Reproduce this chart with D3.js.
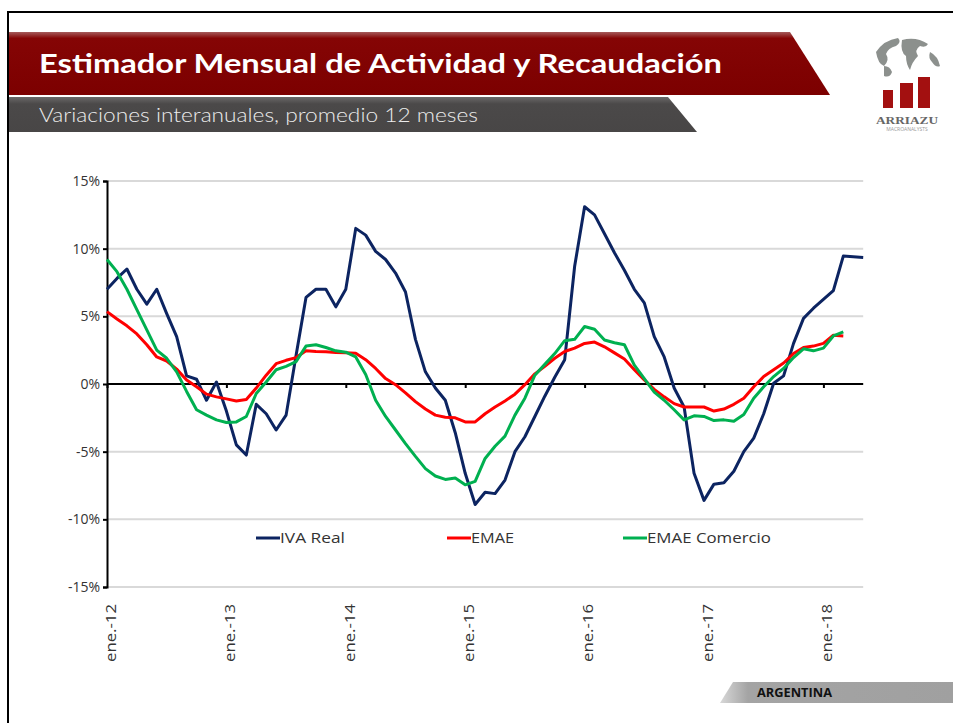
<!DOCTYPE html>
<html>
<head>
<meta charset="utf-8">
<script src="https://cdn.jsdelivr.net/npm/d3@7"></script>
<style>
  body { margin: 0; background: #fff; }
  svg { display: block; }
  text { font-family: "Open Sans", "Lato", sans-serif; }
</style>
</head>
<body>
<div id="chart"></div>
<script>
// ---- data (monthly, ene-2012 = 0) ----
var ivaReal = [7.0, 7.8, 8.5, 7.0, 5.9, 7.0, 5.2, 3.5, 0.6, 0.35, -1.2, 0.15,
  -2.0, -4.5, -5.25, -1.5, -2.2, -3.4, -2.3, 2.1, 6.4, 7.0, 7.0, 5.7,
  7.0, 11.5, 11.0, 9.8, 9.2, 8.2, 6.8, 3.3, 0.9, -0.3, -1.2, -3.6,
  -6.6, -8.9, -8.0, -8.1, -7.1, -5.0, -3.9, -2.4, -0.9, 0.5, 1.8, 8.7,
  13.1, 12.5, 11.1, 9.7, 8.4, 7.0, 6.0, 3.5, 2.0, -0.3, -1.7, -6.6,
  -8.6, -7.4, -7.3, -6.45, -5.0, -4.0, -2.2, 0.05, 0.6, 3.0, 4.85, 5.6,
  6.25, 6.9, 9.45, 9.4, 9.35];

var emae = [5.35, 4.8, 4.3, 3.7, 2.9, 2.0, 1.7, 1.1, 0.3, -0.2, -0.75, -0.95,
  -1.1, -1.25, -1.15, -0.3, 0.65, 1.5, 1.75, 1.95, 2.45, 2.4, 2.38, 2.33,
  2.3, 2.27, 1.8, 1.15, 0.4, -0.05, -0.65, -1.3, -1.85, -2.3, -2.45, -2.5,
  -2.8, -2.8, -2.2, -1.7, -1.25, -0.75, -0.05, 0.75, 1.3, 1.9, 2.4, 2.65,
  3.0, 3.1, 2.75, 2.3, 1.85, 1.05, 0.3, -0.4, -0.95, -1.45, -1.7, -1.7,
  -1.7, -2.0, -1.85, -1.5, -1.05, -0.2, 0.55, 1.05, 1.55, 2.25, 2.7, 2.8,
  3.0, 3.6, 3.55];

var emaeComercio = [9.2, 8.3, 7.0, 5.5, 4.0, 2.5, 1.9, 0.9, -0.55, -1.9, -2.3, -2.65,
  -2.85, -2.8, -2.4, -0.7, 0.15, 1.05, 1.3, 1.65, 2.8, 2.9, 2.7, 2.45,
  2.35, 2.0, 0.7, -1.2, -2.4, -3.4, -4.4, -5.35, -6.25, -6.8, -7.05, -6.95,
  -7.45, -7.2, -5.5, -4.6, -3.85, -2.3, -1.05, 0.65, 1.45, 2.25, 3.2, 3.3,
  4.25, 4.05, 3.25, 3.05, 2.9, 1.4, 0.4, -0.6, -1.2, -1.9, -2.65, -2.35,
  -2.4, -2.7, -2.65, -2.75, -2.25, -1.05, -0.2, 0.55, 1.15, 1.95, 2.6, 2.45,
  2.65, 3.55, 3.85];

var yTicks = [-15, -10, -5, 0, 5, 10, 15];
var xTickLabels = ["ene.-12", "ene.-13", "ene.-14", "ene.-15", "ene.-16", "ene.-17", "ene.-18"];
var seriesNames = ["IVA Real", "EMAE", "EMAE Comercio"];
var seriesColors = ["#0c2461", "#ff0000", "#00b050"];

var width = 953,
    height = 723;

var svg = d3.select("#chart").append("svg")
    .attr("width", width)
    .attr("height", height);

// ******* header ******* //
var defs = svg.append("defs");
var redGrad = defs.append("linearGradient").attr("id", "redGrad")
    .attr("x1", 0).attr("y1", 0).attr("x2", 0).attr("y2", 1);
redGrad.append("stop").attr("offset", "0%").attr("stop-color", "#a55a5a");
redGrad.append("stop").attr("offset", "10%").attr("stop-color", "#850505");
redGrad.append("stop").attr("offset", "100%").attr("stop-color", "#7c0000");
var grayGrad = defs.append("linearGradient").attr("id", "grayGrad")
    .attr("x1", 0).attr("y1", 0).attr("x2", 0).attr("y2", 1);
grayGrad.append("stop").attr("offset", "0%").attr("stop-color", "#6a6868");
grayGrad.append("stop").attr("offset", "20%").attr("stop-color", "#4b4949");
grayGrad.append("stop").attr("offset", "100%").attr("stop-color", "#484646");
var footGrad = defs.append("linearGradient").attr("id", "footGrad")
    .attr("x1", 0).attr("y1", 0).attr("x2", 1).attr("y2", 0);
footGrad.append("stop").attr("offset", "0%").attr("stop-color", "#d8d8d8");
footGrad.append("stop").attr("offset", "12%").attr("stop-color", "#a4a4a4");
footGrad.append("stop").attr("offset", "100%").attr("stop-color", "#a0a0a0");

svg.append("path")
    .attr("d", "M8,723V12H953")
    .attr("fill", "none")
    .attr("stroke", "#000")
    .attr("stroke-width", 2);

svg.append("polygon")
    .attr("points", "9,32 790,32 830,95 9,95")
    .attr("fill", "url(#redGrad)");
svg.append("polygon")
    .attr("points", "9,97 668,97 697,132 9,132")
    .attr("fill", "url(#grayGrad)");

svg.append("text")
    .attr("x", 39).attr("y", 73)
    .attr("fill", "#fff")
    .attr("font-size", 27)
    .attr("font-weight", "bold")
    .style("font-family", "Lato, sans-serif")
    .attr("textLength", 683)
    .attr("lengthAdjust", "spacingAndGlyphs")
    .text("Estimador Mensual de Actividad y Recaudación");

svg.append("text")
    .attr("x", 39).attr("y", 122)
    .attr("fill", "#ececec")
    .attr("font-size", 19)
    .attr("font-weight", 300)
    .style("font-family", "Lato, sans-serif")
    .attr("textLength", 439)
    .attr("lengthAdjust", "spacingAndGlyphs")
    .text("Variaciones interanuales, promedio 12 meses");

// logo (rough)
var logo = svg.append("g").attr("class", "logo");
logo.append("path")
    .attr("d", "M876,52 q8,-12 22,-14 q4,4 -2,8 q-8,2 -10,8 q4,6 -2,12 q-6,-2 -8,-14z" +
               " M902,40 q14,-4 26,4 q-2,4 -8,2 q-6,4 -2,10 q-6,6 -8,14 q-4,-6 -4,-14 q-6,-4 -4,-16z" +
               " M930,52 q8,4 10,14 q-4,2 -8,-4 q-4,-4 -2,-10z" +
               " M884,66 q6,0 8,6 q-2,6 -8,4z")
    .attr("fill", "#6f7470")
    .attr("opacity", 0.8);
logo.selectAll("rect.bar")
    .data([[883, 90, 10], [900, 83, 13], [918, 77, 12]])
    .enter().append("rect")
    .attr("x", function(d) { return d[0]; })
    .attr("y", function(d) { return d[1]; })
    .attr("width", function(d) { return d[2]; })
    .attr("height", function(d) { return 108 - d[1]; })
    .attr("fill", "#a31010");
logo.append("text")
    .attr("x", 907).attr("y", 124)
    .attr("text-anchor", "middle")
    .attr("font-size", 10)
    .attr("font-weight", "bold")
    .style("font-family", "'Liberation Serif', serif")
    .attr("fill", "#666")
    .attr("textLength", 62)
    .attr("lengthAdjust", "spacingAndGlyphs")
    .text("ARRIAZU");
logo.append("text")
    .attr("x", 907).attr("y", 131)
    .attr("text-anchor", "middle")
    .attr("font-size", 5)
    .attr("fill", "#999")
    .text("MACROANALYSTS");

// footer
svg.append("polygon")
    .attr("points", "720,703 733,682 953,682 953,703")
    .attr("fill", "url(#footGrad)");
svg.append("text")
    .attr("x", 757).attr("y", 697)
    .attr("fill", "#111")
    .attr("font-size", 12)
    .attr("font-weight", "bold")
    .attr("textLength", 75)
    .attr("lengthAdjust", "spacingAndGlyphs")
    .text("ARGENTINA");

// ******* chart ******* //
var x = d3.scaleLinear().domain([0, 76]).range([107, 863.2]);
var y = d3.scaleLinear().domain([-15, 15]).range([587, 181]);

var g = svg.append("g");

// gridlines
g.append("g").attr("class", "grid")
    .selectAll("line")
    .data(yTicks.filter(function(d) { return d !== 0; }))
    .enter().append("line")
    .attr("x1", x(0)).attr("x2", x(76))
    .attr("y1", function(d) { return y(d); })
    .attr("y2", function(d) { return y(d); })
    .attr("stroke", "#d9d9d9")
    .attr("stroke-width", 2);

// y axis
var yAxis = d3.axisLeft(y)
    .tickValues(yTicks)
    .tickSize(4)
    .tickPadding(3)
    .tickFormat(function(d) { return d + "%"; });
var yAxisG = g.append("g")
    .attr("transform", "translate(" + x(0) + ",0)")
    .call(yAxis);
yAxisG.select(".domain").attr("stroke", "#000").attr("stroke-width", 2);
yAxisG.selectAll(".tick line").attr("stroke", "#000").attr("stroke-width", 2);
yAxisG.selectAll(".tick text")
    .attr("font-size", 14)
    .attr("fill", "#333")
    .style("font-family", "'Open Sans', sans-serif");

// x axis at zero
var yearIdx = d3.range(0, 7).map(function(i) { return i * 12; });
var xAxis = d3.axisBottom(x)
    .tickValues(yearIdx)
    .tickSize(4)
    .tickSizeOuter(0)
    .tickFormat("");
var xAxisG = g.append("g")
    .attr("transform", "translate(0," + y(0) + ")")
    .call(xAxis);
xAxisG.select(".domain").attr("stroke", "#000").attr("stroke-width", 2)
    .attr("d", "M" + x(0) + ",0H" + x(76));
xAxisG.selectAll(".tick line").attr("stroke", "#000").attr("stroke-width", 2);

// x labels (rotated, bottom)
g.append("g").attr("class", "xlabels")
    .selectAll("text")
    .data(xTickLabels)
    .enter().append("text")
    .attr("transform", function(d, i) {
        return "translate(" + (x(yearIdx[i]) + 3.5) + ",604) rotate(-90)";
    })
    .attr("text-anchor", "end")
    .attr("dy", "0.35em")
    .attr("font-size", 15)
    .attr("fill", "#333")
    .attr("textLength", 58)
    .attr("lengthAdjust", "spacingAndGlyphs")
    .text(function(d) { return d; });

// series lines
var line = d3.line()
    .x(function(d, i) { return x(i); })
    .y(function(d) { return y(d); });

var allSeries = [ivaReal, emae, emaeComercio];

g.append("g").attr("class", "lines")
    .selectAll("path")
    .data(allSeries)
    .enter().append("path")
    .attr("fill", "none")
    .attr("stroke", function(d, i) { return seriesColors[i]; })
    .attr("stroke-width", 3)
    .attr("stroke-linejoin", "round")
    .attr("d", line);

// legend
var legendX = [256, 447, 623];
var legendW = [65, 43, 124];
var legend = g.append("g").attr("class", "legend")
    .selectAll("g")
    .data(seriesNames)
    .enter().append("g")
    .attr("transform", function(d, i) { return "translate(" + legendX[i] + ",538)"; });
legend.append("line")
    .attr("x1", 0).attr("x2", 24)
    .attr("stroke", function(d, i) { return seriesColors[i]; })
    .attr("stroke-width", 3);
legend.append("text")
    .attr("x", 24)
    .attr("dy", "0.35em")
    .attr("font-size", 15)
    .attr("fill", "#333")
    .attr("textLength", function(d, i) { return legendW[i]; })
    .attr("lengthAdjust", "spacingAndGlyphs")
    .text(function(d) { return d; });
</script>
</body>
</html>
